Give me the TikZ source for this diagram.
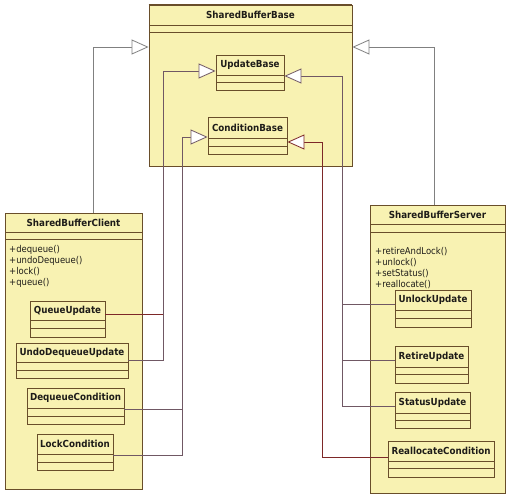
\documentclass[tikz,border=0pt]{standalone}
\usepackage{fontspec}
\setmainfont{DejaVu Sans}[FakeStretch=0.9]
\usetikzlibrary{arrows.meta,fit}
\definecolor{clsfill}{RGB}{248,242,178}
\definecolor{clsborder}{RGB}{105,78,42}
\definecolor{outerline}{RGB}{128,128,128}
\definecolor{innerline}{RGB}{112,88,100}
\definecolor{redline}{RGB}{125,40,40}
\definecolor{txt}{RGB}{30,28,25}
\tikzset{
  cls/.style={draw=clsborder, fill=clsfill, line width=0.9pt, inner sep=0pt},
  sepline/.style={draw=clsborder, line width=0.8pt},
  ctitle/.style={font=\fontsize{9.7}{11}\selectfont\bfseries, text=txt, inner sep=0pt},
  meth/.style={font=\fontsize{9.4}{10}\selectfont, text=txt, inner sep=0pt, anchor=west},
  gen/.style={-{Triangle[length=17pt,width=15pt,fill=white]}},
  outerconn/.style={draw=outerline, line width=0.8pt},
  innerconn/.style={draw=innerline, line width=0.8pt},
  redconn/.style={draw=redline, line width=0.8pt}
}
\newcommand{\umlcls}[8]{%
  \node[cls, fit={(#2,#3)(#4,#5)}] (#1) {};
  \draw[sepline] (#2,#6) -- (#4,#6);
  \draw[sepline] (#2,#7) -- (#4,#7);
  \node[ctitle] (#1-t) at ({(#2+#4)/2},{(#3+#6)/2}) {#8};
}
\begin{document}
\begin{tikzpicture}[x=1pt,y=-1pt]
\useasboundingbox[fill=white] (0,0) rectangle (515,494);

% base container
\umlcls{base}{149}{5}{352}{166}{25}{32}{SharedBufferBase}
\draw[clsborder, line width=1.3pt] (base.north west) -- (base.north east);

% client and server
\umlcls{client}{5}{213}{142}{489}{232}{239}{SharedBufferClient}
\umlcls{server}{370}{205}{505}{493}{224}{232}{SharedBufferServer}

% outer generalisations
\draw[outerconn, gen] (client.north -| 93,0) -- (93,47) -- (base.west |- 0,47);
\draw[outerconn, gen] (server.north -| 434,0) -- (434,47) -- (base.east |- 0,47);

% methods
\node[meth] (m1) at (9,250) {+dequeue()};
\node[meth] (m2) at (9,261) {+undoDequeue()};
\node[meth] (m3) at (9,272) {+lock()};
\node[meth] (m4) at (9,283) {+queue()};
\node[meth] (s1) at (375,252) {+retireAndLock()};
\node[meth] (s2) at (375,263) {+unlock()};
\node[meth] (s3) at (375,274) {+setStatus()};
\node[meth] (s4) at (375,285) {+reallocate()};

% inner classes
\umlcls{qu}{30}{301}{105}{337}{320}{328}{QueueUpdate}
\umlcls{udu}{16}{343}{128}{378}{362}{370}{UndoDequeueUpdate}
\umlcls{dc}{27}{388}{124}{424}{408}{416}{DequeueCondition}
\umlcls{lc}{37}{434}{113}{470}{454}{462}{LockCondition}
\umlcls{uu}{395}{290}{471}{327}{310}{318}{UnlockUpdate}
\umlcls{ru}{395}{346}{468}{383}{367}{374}{RetireUpdate}
\umlcls{su}{395}{392}{470}{428}{413}{420}{StatusUpdate}
\umlcls{rc}{388}{441}{494}{477}{461}{468}{ReallocateCondition}

% inner connectors
\draw[redconn] (qu.east |- 0,314) -- (163,314);
\draw[innerconn] (udu.east |- 0,360) -- (163,360) -- (163,71) coordinate (ubl);
\draw[innerconn] (dc.east |- 0,409) -- (182,409);
\draw[innerconn] (lc.east |- 0,455) -- (182,455) -- (182,137) coordinate (cbl);
\draw[innerconn] (uu.west |- 0,304) -- (342,304);
\draw[innerconn] (ru.west |- 0,360) -- (342,360);
\draw[innerconn] (su.west |- 0,406) -- (342,406) -- (342,76) coordinate (ubr);
\draw[redconn] (rc.west |- 0,457) -- (322,457) -- (322,142) coordinate (cbr);

% base members
\umlcls{ub}{216}{55}{284}{90}{75}{82}{UpdateBase}
\umlcls{cb}{208}{117}{287}{154}{138}{146}{ConditionBase}

\draw[innerconn, gen] (ubl) -- (ub.west |- ubl);
\draw[innerconn, gen] (ubr) -- (ub.east |- ubr);
\draw[innerconn, gen] (cbl) -- (cb.west |- cbl);
\draw[redconn, gen] (cbr) -- (cb.east |- cbr);
\end{tikzpicture}
\end{document}
